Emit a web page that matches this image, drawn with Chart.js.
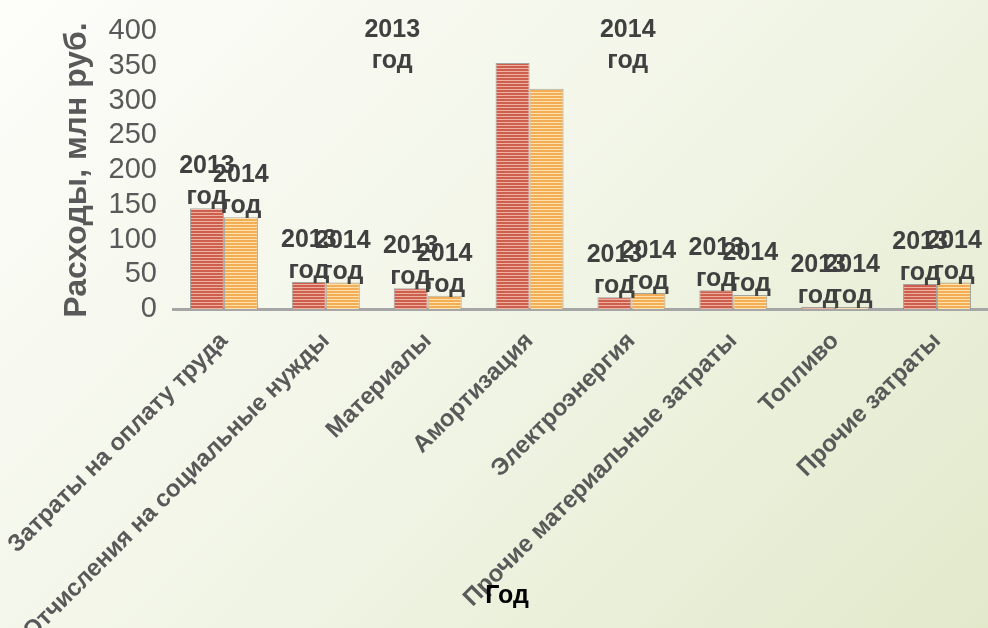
<!DOCTYPE html>
<html><head><meta charset="utf-8">
<script src="https://cdn.jsdelivr.net/npm/chart.js@4/dist/chart.umd.min.js"></script>
<style>
html,body{margin:0;padding:0;}
body{width:988px;height:628px;overflow:hidden;background:linear-gradient(135deg,#fdfdfa 0%,#f0f4e4 55%,#e2e9cb 100%);}
#wrap{position:relative;width:988px;height:628px;}
</style></head><body><div id="wrap"><canvas id="c" width="988" height="628"></canvas></div>
<script>
const categories = ['Затраты на оплату труда','Отчисления на социальные нужды','Материалы','Амортизация','Электроэнергия','Прочие материальные затраты','Топливо','Прочие затраты'];
const series2013 = [145, 39, 30, 354, 17, 27, 3, 36];
const series2014 = [132, 38, 19, 317, 23, 20, 3, 38];
const seriesNames = ['2013 год', '2014 год'];
const yMin = 0, yMax = 400, yStep = 50;
const yTitle = 'Расходы, млн руб.';
const xTitle = 'Год';

const FONT = '"Liberation Sans", Arial, sans-serif';

function stripe(dark, light){
  const c = document.createElement('canvas');
  c.width = 4; c.height = 3;
  const g = c.getContext('2d');
  g.fillStyle = dark; g.fillRect(0,0,4,3);
  g.fillStyle = light; g.fillRect(0,2,4,1);
  return g.createPattern(c,'repeat');
}
const ctx = document.getElementById('c').getContext('2d');
const pat2013 = stripe('#cd5f4e', '#f0b09f');
const pat2014 = stripe('#f3ad55', '#fde2ad');

const labelPlugin = {
  id: 'seriesLabels',
  afterDatasetsDraw(chart, args, opts){
    const c = chart.ctx;
    c.save();
    c.font = 'bold 25px ' + FONT;
    c.fillStyle = '#404040';
    c.textAlign = 'center';
    c.textBaseline = 'alphabetic';
    chart.data.datasets.forEach((ds, di) => {
      const meta = chart.getDatasetMeta(di);
      const lines = ds.label.split(' ');
      meta.data.forEach((bar, i) => {
        if (opts.skip.includes(chart.data.labels[i])) return;
        const base = bar.y - opts.gap;
        lines.forEach((ln, k) => c.fillText(ln, bar.x, base - (lines.length - 1 - k) * opts.lineHeight));
      });
      const p = opts.moved[di];
      const a = chart.chartArea;
      const x = a.left + p[0] * (a.right - a.left);
      lines.forEach((ln, k) => c.fillText(ln, x, p[1] + k * opts.lineHeight));
    });
    c.fillStyle = '#000000';
    c.fillText(xTitle, opts.xTitlePos[0], opts.xTitlePos[1]);
    c.restore();
  }
};

new Chart(ctx, {
  type: 'bar',
  data: {
    labels: categories,
    datasets: [
      { label: seriesNames[0], data: series2013, backgroundColor: pat2013, borderColor: 'rgba(130,130,130,0.7)', borderWidth: 1, categoryPercentage: 0.667, barPercentage: 1 },
      { label: seriesNames[1], data: series2014, backgroundColor: pat2014, borderColor: 'rgba(130,130,130,0.7)', borderWidth: 1, categoryPercentage: 0.667, barPercentage: 1 }
    ]
  },
  options: {
    responsive: false,
    animation: false,
    layout: { padding: { top: 31, left: 0, right: 0, bottom: 0 } },
    plugins: {
      legend: { display: false },
      tooltip: { enabled: false },
      seriesLabels: { skip: ['Амортизация'], gap: 4, lineHeight: 31, moved: [[0.269, 37], [0.558, 37]], xTitlePos: [507, 603] }
    },
    scales: {
      x: {
        grid: { display: false },
        border: { display: true, color: '#a6a6a6', width: 3 },
        ticks: { autoSkip: false, minRotation: 45, maxRotation: 45, color: '#595959', font: { family: FONT, size: 24, weight: 'bold' }, padding: 10 },
        afterFit(s){ s.height = 319; s.paddingLeft = 0; s.paddingRight = 0; }
      },
      y: {
        min: yMin, max: yMax,
        grid: { display: false },
        border: { display: false },
        ticks: { stepSize: yStep, autoSkip: false, color: '#595959', font: { family: FONT, size: 29 }, padding: 8 },
        title: { display: true, text: yTitle, color: '#595959', font: { family: FONT, size: 32, weight: 'bold' }, padding: { top: 58, bottom: 0 } },
        afterFit(s){ s.width = 173; }
      }
    }
  },
  plugins: [labelPlugin]
});
</script>
</body></html>
